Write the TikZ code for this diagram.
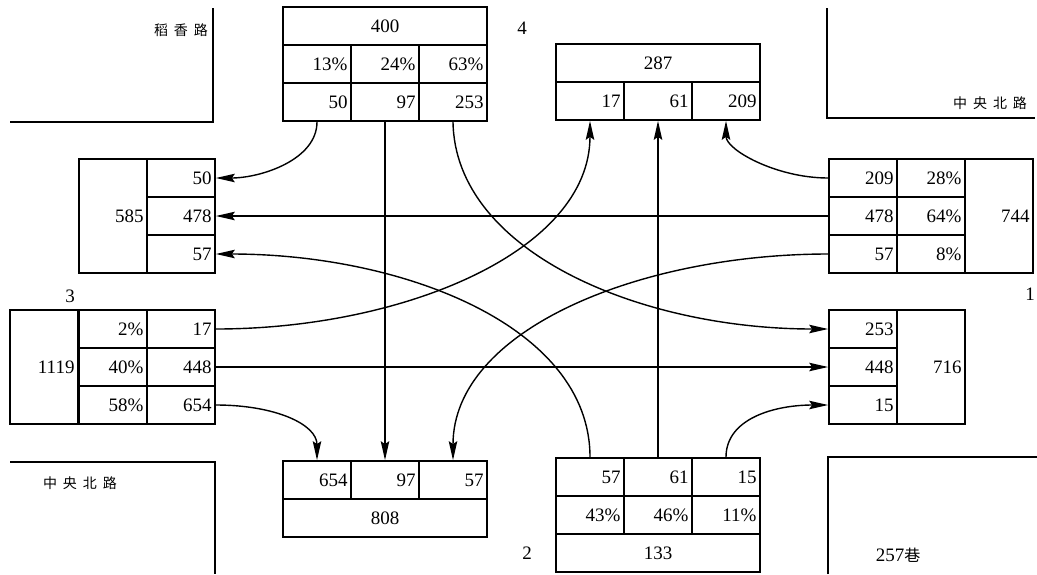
\documentclass[tikz,border=0pt]{standalone}
\usepackage{fontspec}
\setmainfont{Liberation Serif}
\newfontfamily\cjk{Noto Sans CJK SC}
\usetikzlibrary{arrows.meta}
\begin{document}
\begin{tikzpicture}[x=1pt,y=-1pt,
  cell/.style={draw, line width=1.7pt, minimum width=68pt, minimum height=38pt, text width=61pt, align=right, inner sep=0pt, font=\fontsize{19}{22}\selectfont},
  wide/.style={cell, minimum width=204pt, text width=196pt, align=center},
  tall/.style={cell, minimum height=114pt},
  road/.style={line width=2.2pt},
  cjklab/.style={font=\cjk\fontsize{14}{16}\selectfont, inner sep=0pt},
  numlab/.style={font=\fontsize{19}{22}\selectfont, inner sep=0pt},
  conn/.style={line width=1.4pt, -{Stealth[length=19pt,width=8.5pt,inset=3pt]}}]
\useasboundingbox (0,0) rectangle (1037,574);
% roads
\draw[road] (213,8) -- (213,122) -- (10,122);
\draw[road] (827,8) -- (827,118) -- (1035,118);
\draw[road] (10,462) -- (215,462) -- (215,574);
\draw[road] (828,574) -- (828,457) -- (1037,457);
% road labels
\node[cjklab] (rd1) at (181,30) {稻\hspace{6pt}香\hspace{6pt}路};
\node[cjklab] (rd2) at (990,103) {中\hspace{6pt}央\hspace{6pt}北\hspace{6pt}路};
\node[cjklab] (rd3) at (80,483) {中\hspace{6pt}央\hspace{6pt}北\hspace{6pt}路};
\node[numlab] (rd4) at (898,555) {257{\cjk\fontsize{16}{18}\selectfont 巷}};
% approach numbers
\node[numlab] (a4) at (522,28) {4};
\node[numlab] (a3) at (70,296) {3};
\node[numlab] (a1) at (1030,294) {1};
\node[numlab] (a2) at (527,553) {2};
% top box (approach 4)
\node[wide] (t0) at (385,26) {400};
\node[cell] (tp1) at (317,64) {13\%};
\node[cell] (tp2) at (385,64) {24\%};
\node[cell] (tp3) at (453,64) {63\%};
\node[cell] (t50) at (317,102) {50};
\node[cell] (t97) at (385,102) {97};
\node[cell] (t253) at (453,102) {253};
% north exit box
\node[wide] (n0) at (658,63) {287};
\node[cell] (n17) at (590,101) {17};
\node[cell] (n61) at (658,101) {61};
\node[cell] (n209) at (726,101) {209};
% east box (approach 1)
\node[cell] (e209) at (863,178) {209};
\node[cell] (e478) at (863,216) {478};
\node[cell] (e57) at (863,254) {57};
\node[cell] (ep1) at (931,178) {28\%};
\node[cell] (ep2) at (931,216) {64\%};
\node[cell] (ep3) at (931,254) {8\%};
\node[tall] (e0) at (999,216) {744};
% west exit box
\node[tall] (w0) at (113,216) {585};
\node[cell] (w50) at (181,178) {50};
\node[cell] (w478) at (181,216) {478};
\node[cell] (w57) at (181,254) {57};
% west box (approach 3)
\node[tall] (wb0) at (44,367) {1119};
\node[cell] (wbp1) at (113,329) {2\%};
\node[cell] (wbp2) at (113,367) {40\%};
\node[cell] (wbp3) at (113,405) {58\%};
\node[cell] (wb17) at (181,329) {17};
\node[cell] (wb448) at (181,367) {448};
\node[cell] (wb654) at (181,405) {654};
% east exit box
\node[cell] (x253) at (863,329) {253};
\node[cell] (x448) at (863,367) {448};
\node[cell] (x15) at (863,405) {15};
\node[tall] (x0) at (931,367) {716};
% south exit box
\node[cell] (s654) at (317,480) {654};
\node[cell] (s97) at (385,480) {97};
\node[cell] (s57) at (453,480) {57};
\node[wide] (s0) at (385,518) {808};
% south box (approach 2)
\node[cell] (b57) at (590,477) {57};
\node[cell] (b61) at (658,477) {61};
\node[cell] (b15) at (726,477) {15};
\node[cell] (bp1) at (590,515) {43\%};
\node[cell] (bp2) at (658,515) {46\%};
\node[cell] (bp3) at (726,515) {11\%};
\node[wide] (b0) at (658,553) {133};
% straight connectors
\draw[conn] (e478.west) -- (w478.east);
\draw[conn] (wb448.east) -- (x448.west);
\draw[conn] (t97.south) -- (s97.north);
\draw[conn] (b61.north) -- (n61.south);
% curved connectors
\draw[conn] (t50.south) .. controls +(0,38) and +(45,0) .. (w50.east);
\draw[conn] (t253.south) .. controls +(2,130) and +(-188,0) .. (x253.west);
\draw[conn] (e209.west) .. controls +(-52,0) and +(0,29) .. (n209.south);
\draw[conn] (e57.west) .. controls +(-187,0) and +(0,-131) .. (s57.north);
\draw[conn] (b57.north) .. controls +(0,-131) and +(187,0) .. (w57.east);
\draw[conn] (wb17.east) .. controls +(186,0) and +(0,131) .. (n17.south);
\draw[conn] (wb654.east) .. controls +(59,0) and +(0,-36) .. (s654.north);
\draw[conn] (b15.north) .. controls +(0,-39) and +(-53,0) .. (x15.west);
\end{tikzpicture}
\end{document}
